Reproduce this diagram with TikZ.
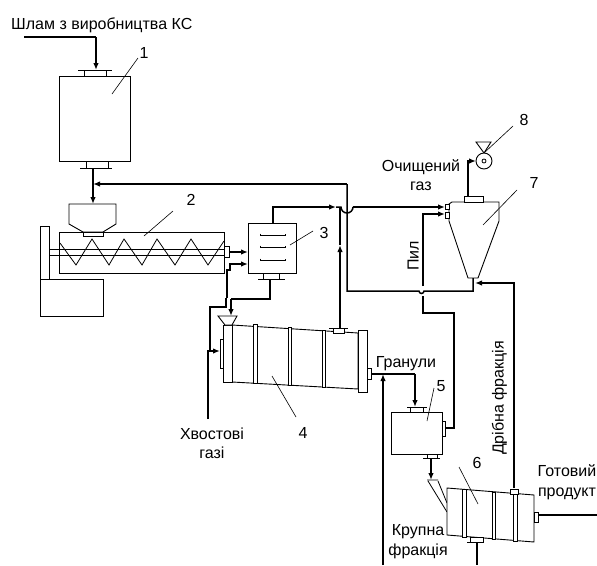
\documentclass[tikz,border=0pt]{standalone}
\usepackage{fontspec}
\setmainfont{Liberation Sans}
\usetikzlibrary{arrows.meta}
\tikzset{
  thin line/.style={line width=0.8pt,black},
  part/.style={draw=black,line width=0.9pt,fill=white,inner sep=0pt,outer sep=0pt},
  flow/.style={line width=1.5pt,black,line join=miter},
  flowa/.style={flow,-{Latex[length=7pt,width=5.5pt]}},
  leader/.style={line width=0.6pt,black},
  lab/.style={inner sep=0pt,font=\fontsize{16}{18}\selectfont,align=center,text=black,text height=14pt,text depth=3pt},
}
\newcommand{\bx}[5]{\node[part,anchor=north west,minimum width=#4*1pt-#2*1pt,minimum height=#5*1pt-#3*1pt] (#1) at (#2,#3) {};}
\begin{document}
\begin{tikzpicture}[x=1pt,y=-1pt]
\useasboundingbox (0,0) rectangle (597,565);
% named ports
\foreach \n/\x/\y in {
 s1/24/37, s1b/96/37, s1c/96/70,
 o1/93/168, i2/93/204, ret/347/184, ret1/93/184,
 sc1/229/252, sc2/248/252,
 d1/226/307, d2/210/307, d3/210/351,
 u1/270/279, u2/270/299, u3/231/299, u4/231/316,
 t1/273/223, t2/273/207, t3/336/207, t4/341/207, t5/353/207, t6/445/207,
 v1/340/328, v2/340/245, v3/340/207,
 r1/347/291, r2/419/291, r3/424/291, r4/473/291, r5/473/278,
 f1/514/488, f2/514/283, f3/475/283,
 p1/445/428, p2/454/428, p3/454/313, p4/423/313, p5/423/296, p6/423/286, p7/423/214, p8/445/214,
 g1/468/196, g2/468/161, g3/476/161,
 x1/208/419, x2/208/351, x3/220/351,
 h1/371/374, h2/415/374, h3/415/407,
 w1/383/565, w2/383/374,
 m1/431/458, m2/431/480,
 y1/538/515, y2/597/515, z1/477/542, z2/477/565}
 {\coordinate (\n) at (\x,\y);}
% 1 bin
\bx{b1}{59}{76}{130}{161}
\bx{b1t}{84}{70}{106}{76}
\bx{b1b}{86}{161}{108}{168}
\draw[thin line] (78,70) -- (112,70) (80,168) -- (112,168);
% 2 screw
\draw[part] (40,226) rectangle (49,279);
\draw[part] (40,279) rectangle (103,316);
\bx{b2}{59}{232}{224}{273}
\draw[thin line] (50,249) -- (224,249) (50,255) -- (224,255);
\draw[thin line] (60,243) -- (76,265) -- (92,239) -- (109,265) -- (124,239) -- (142,265) -- (157,239) -- (175,265) -- (191,239) -- (208,265) -- (224,241);
\draw[part] (69,204) -- (116,204) -- (116,224) -- (103,232) -- (83,232) -- (69,224) -- cycle;
\draw[part] (83,232) rectangle (103,236);
\bx{b2r}{224}{246}{229}{257}
% 3
\bx{b3}{248}{223}{296}{273}
\bx{b3b}{263}{273}{279}{279}
\draw[thin line] (258,279) -- (285,279);
\foreach \y in {235,247,260}
  \draw[thin line] (260,\y-1.5) -- (260,\y) -- (285,\y) -- (285,\y-1.5);
% 4 dryer
\draw[part] (232,325) -- (358,333) -- (358,389) -- (232,382) -- cycle;
\bx{b4l}{223}{325}{232}{382}
\draw[part] (220,339) rectangle (223,368);
\draw[part] (253,324) rectangle (257,383);
\draw[part] (288,327) rectangle (291,385);
\draw[part] (322,330) rectangle (325,387);
\bx{b4r}{358}{330}{367}{392}
\bx{b4c}{367}{368}{371}{379}
\bx{b4t}{333}{328}{344}{333}
\draw[thin line] (329,328) -- (348,328);
\draw[part] (218,316) -- (237,316) -- (232,325) -- (225,325) -- cycle;
% 5
\bx{b5}{391}{412}{442}{454}
\bx{b5t}{410}{407}{423}{412}
\draw[thin line] (407,407) -- (427,407);
\bx{b5r}{442}{421}{445}{436}
\bx{b5b}{427}{454}{437}{458}
\draw[thin line] (423,458) -- (440,458);
\draw[thin line] (427,480) -- (438,480) (428,481) -- (447,512) (438,481) -- (447,503);
% 6
\draw[part] (447,488) -- (534,495) -- (534,542) -- (447,535) -- cycle;
\draw[part] (462,489) rectangle (466,537);
\draw[part] (492,492) rectangle (495,539);
\draw[part] (513,494) rectangle (517,541);
\bx{b6t}{510}{489}{518}{494}
\bx{b6r}{534}{512}{538}{522}
\bx{b6b}{470}{537}{483}{542}
\draw[thin line] (467,542) -- (484,542);
% 7 cyclone
\draw[part] (449,204) -- (452,202) -- (499,202) -- (499,221) -- (478,278) -- (468,278) -- (449,221) -- cycle;
\bx{b7t}{464}{196}{483}{202}
\draw[part] (445,204) rectangle (449,209);
\draw[part] (445,212) rectangle (449,218);
% 8 fan
\draw[part] (476,142) -- (491,142) -- (484,153) -- cycle;
\node[part,circle,minimum size=16pt] (fan) at (484,161) {};
\draw[thin line] (484,161) circle (2);
% connectors
\draw[flow] (s1) -- (s1b); \draw[flowa] (s1b) -- (s1c);
\draw[flowa] (o1) -- (i2);
\draw[flowa] (ret) -- (ret1);
\draw[flow] (ret) -- (r1) -- (r2) arc[start angle=180,end angle=0,radius=2.5] -- (r4) -- (r5);
\draw[flowa] (sc1) -- (sc2);
\draw[flowa] (227,298) -- (227,270) -- (230,270) -- (230,264) -- (248,264);
\draw[flow] (226,298) -- (d1) -- (d2) -- (d3);
\draw[flow] (u1) -- (u2) -- (u3);
\draw[flowa] (u3) -- (u4);
\draw[flowa] (t1) -- (t2) -- (t3);
\draw[flow] (t3) -- (t4) arc[start angle=180,end angle=0,radius=6] -- (t5);
\draw[flowa] (t5) -- (t6);
\draw[flowa] (v1) -- (v2);
\draw[flow] (v2) -- (v3);
\draw[flowa] (f1) -- (f2) -- (f3);
\draw[flow] (p1) -- (p2) -- (p3) -- (p4) -- (p5);
\draw[flowa] (p6) -- (p7) -- (p8);
\draw[flowa] (g1) -- (g2) -- (g3);
\draw[flowa] (x1) -- (x2) -- (x3);
\draw[flow] (h1) -- (h2); \draw[flowa] (h2) -- (h3);
\draw[flowa] (w1) -- (w2);
\draw[flowa] (m1) -- (m2);
\draw[flow] (y1) -- (y2);
\draw[flow] (z1) -- (z2);
% leaders
\draw[leader] (138,58) -- (112,94);
\draw[leader] (173,211) -- (144,236);
\draw[leader] (313,231) -- (290,245);
\draw[leader] (272,376) -- (296,417);
\draw[leader] (434,388) -- (427,421);
\draw[leader] (459,467) -- (478,504);
\draw[leader] (517,190) -- (483,225);
\draw[leader] (513,126) -- (484,153);
% labels
\node[lab,anchor=west] (tt1) at (11,24) {Шлам з виробництва КС};
\node[lab] (n1) at (144,53) {1};
\node[lab] (n2) at (191,200) {2};
\node[lab] (n3) at (324,233) {3};
\node[lab] (n4) at (303,433) {4};
\node[lab] (n5) at (441,386) {5};
\node[lab] (n6) at (477,463) {6};
\node[lab] (n7) at (534,183) {7};
\node[lab] (n8) at (524,120) {8};
\node[lab] (t2a) at (421,166) {Очищений};
\node[lab] (t2b) at (421,185) {газ};
\node[lab,rotate=90] (t3a) at (413,256) {Пил};
\node[lab] (t4a) at (212,434) {Хвостові};
\node[lab] (t4b) at (212,453) {газі};
\node[lab] (t5a) at (406,362) {Гранули};
\node[lab,rotate=90] (t6a) at (498,398) {Дрібна фракція};
\node[lab] (t7a) at (567,471) {Готовий};
\node[lab] (t7b) at (567,491) {продукт};
\node[lab] (t8a) at (418,530) {Крупна};
\node[lab] (t8b) at (418,550) {фракція};
\end{tikzpicture}
\end{document}
